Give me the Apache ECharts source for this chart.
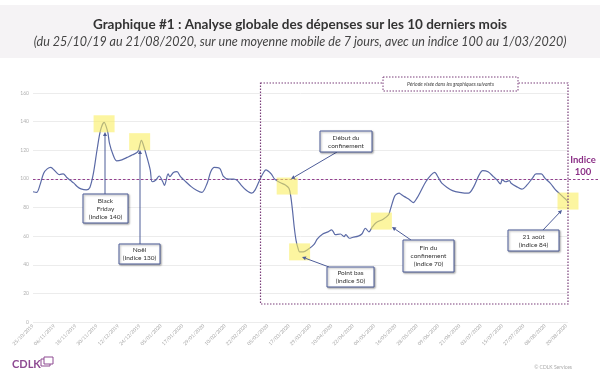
<!DOCTYPE html>
<html>
<head>
<meta charset="utf-8">
<script src="https://cdn.jsdelivr.net/npm/echarts@6/dist/echarts.min.js"></script>
<style>
  html, body { margin: 0; padding: 0; background: #fff; }
  #chart { width: 600px; height: 377px; }
</style>
</head>
<body>
<div id="chart"></div>
<script>
// 横轴刻度标签（每 12 天一个，从 25/10/2019 起）
const tickLabels = [
  '25/10/2019', '06/11/2019', '18/11/2019', '30/11/2019', '12/12/2019', '24/12/2019',
  '05/01/2020', '17/01/2020', '29/01/2020', '10/02/2020', '22/02/2020', '05/03/2020',
  '17/03/2020', '29/03/2020', '10/04/2020', '22/04/2020', '04/05/2020', '16/05/2020',
  '28/05/2020', '09/06/2020', '21/06/2020', '03/07/2020', '15/07/2020', '27/07/2020',
  '08/08/2020', '20/08/2020'
];

// 天数（距 25/10/2019）
const days = [
  0, 2, 4, 6, 8, 10, 12, 14, 15, 17, 19, 21, 23, 25, 27, 30, 32, 34, 36, 38,
  40, 42, 43, 45, 47, 50, 53, 56, 59, 61, 62, 64, 66, 67, 69, 71, 73, 74, 76, 77,
  79, 81, 83, 86, 89, 92, 95, 98, 100, 102, 105, 107, 110, 113, 115, 117, 120, 123, 125, 128,
  130, 131, 134, 136, 139, 142, 144, 145, 146, 147, 148, 149, 150, 152, 155, 158, 160, 163, 166, 168,
  169, 170, 173, 175, 176, 178, 180, 183, 185, 187, 189, 191, 193, 197, 200, 201, 203, 204, 206, 207,
  209, 212, 214, 216, 218, 221, 224, 226, 228, 230, 233, 236, 240, 245, 248, 251, 253, 256, 259, 261,
  263, 264, 266, 268, 269, 272, 275, 278, 281, 283, 286, 288, 291, 294, 296, 298, 300, 301
];

// 指数（7 日移动平均，1/03/2020 = 100）
const values = [
  91, 90.5, 96, 104, 107, 108, 106, 103.5, 103, 103.5, 101, 99, 97, 94.5, 93, 92.3, 94, 104, 120, 134,
  139.5, 133, 125, 117, 112.6, 113.3, 115, 116.8, 119, 127, 124, 115.6, 106, 98, 99, 102, 98, 95.5, 103.5, 101.5,
  104.5, 105, 101.6, 98, 94.6, 92, 90.5, 97, 105, 108, 107.5, 102, 99.8, 99.8, 98.8, 95.8, 92, 90, 92.3, 100.5,
  105, 106.3, 103.5, 99.8, 97.4, 95.8, 93.4, 88, 78, 66, 57, 52, 49, 49, 51, 54, 58, 61.5, 63, 64.3,
  63, 61, 61.5, 59.7, 61, 58.5, 59.2, 60, 61.5, 65.5, 63, 66.6, 69.4, 71.8, 74.8, 78.3, 86.5, 88.8, 90, 89.3,
  87.6, 85.3, 83.4, 86.5, 91, 98, 102.8, 104.5, 101, 97, 94, 91.8, 90.6, 90, 94.6, 102.8, 105.8, 105, 101.6, 99.3,
  96.5, 99.3, 98, 98.8, 97, 94.6, 92.8, 95.8, 100.5, 103.5, 103.5, 100.5, 97, 92.3, 90, 87.6, 85.3, 84
];

// 高亮点（黑色星期五、圣诞、封城开始、最低点、解封、8月21日）
const hlDays = [40, 60, 143, 150, 196, 301];
const hlValues = [138.5, 126, 95, 49, 70.5, 84.5];

const BLUE = '#4d5c98';
const PURPLE = '#8b2f86';
const FONT = 'Lato, "Open Sans", sans-serif';

const chart = echarts.init(document.getElementById('chart'));

const option = {
  animation: false,
  grid: { left: 33, right: 32, top: 93, bottom: 55 },
  xAxis: {
    type: 'value',
    min: 0,
    max: 301,
    interval: 12,
    axisLine: { show: false },
    axisTick: { show: false },
    splitLine: { show: false },
    axisLabel: {
      rotate: 45,
      fontSize: 5,
      color: '#a8a8a8',
      margin: 3,
      fontFamily: FONT,
      showMaxLabel: false,
      formatter: v => (v % 12 === 0 ? tickLabels[v / 12] : '')
    }
  },
  yAxis: {
    type: 'value',
    min: 0,
    max: 160,
    interval: 20,
    axisLine: { show: false },
    axisTick: { show: false },
    axisLabel: { fontSize: 5, color: '#b0b0b0', margin: 4, fontFamily: FONT },
    splitLine: { lineStyle: { color: '#ececec', width: 1 } }
  },
  series: [
    {
      type: 'line',
      data: days.map((d, i) => [d, values[i]]),
      smooth: 0.3,
      symbol: 'none',
      z: 3,
      lineStyle: { color: '#5b6aa6', width: 1.2 }
    },
    {
      // 黄色高亮方块
      type: 'scatter',
      data: hlDays.map((d, i) => [d, hlValues[i]]),
      symbol: 'rect',
      symbolSize: [21, 17],
      z: 4,
      itemStyle: { color: 'rgba(250, 238, 90, 0.72)' }
    }
  ]
};

chart.setOption(option);

// 箭头
function arrow(x1, y1, x2, y2) {
  const a = Math.atan2(y2 - y1, x2 - x1);
  const s = 4, w = 2;
  const bx = x2 - s * Math.cos(a), by = y2 - s * Math.sin(a);
  return [
    { type: 'line', shape: { x1, y1, x2: bx, y2: by }, style: { stroke: BLUE, lineWidth: 1 }, z: 10 },
    {
      type: 'polygon',
      shape: { points: [[x2, y2], [bx + w * Math.sin(a), by - w * Math.cos(a)], [bx - w * Math.sin(a), by + w * Math.cos(a)]] },
      style: { fill: BLUE },
      z: 10
    }
  ];
}

// 注释框
function box(x, y, w, h, text) {
  return [
    {
      type: 'rect',
      shape: { x, y, width: w, height: h },
      style: { fill: '#fff', stroke: BLUE, lineWidth: 1, shadowBlur: 2, shadowOffsetX: 1, shadowOffsetY: 1, shadowColor: 'rgba(0,0,0,0.35)' },
      z: 11
    },
    {
      type: 'text',
      x: x + w / 2,
      y: y + h / 2,
      style: { text, fontSize: 6.5, fontFamily: FONT, fill: '#333', align: 'center', verticalAlign: 'middle', lineHeight: 8 },
      z: 12
    }
  ];
}

const x0 = chart.convertToPixel({ gridIndex: 0 }, [0, 0])[0];
const left = chart.convertToPixel({ gridIndex: 0 }, [128, 0])[0];
const right = chart.convertToPixel({ gridIndex: 0 }, [301, 0])[0];
const y100 = Math.round(chart.convertToPixel({ gridIndex: 0 }, [0, 100])[1]) + 0.5;

const elements = [
  // 标题背景
  { type: 'rect', shape: { x: 0, y: 5, width: 600, height: 53 }, style: { fill: '#f5f3f5' }, z: 0 },
  {
    type: 'text', x: 300, y: 25,
    style: { text: 'Graphique #1 : Analyse globale des dépenses sur les 10 derniers mois', fontSize: 13.5, fontWeight: 'bold', fontFamily: FONT, fill: '#333', align: 'center', verticalAlign: 'middle' }
  },
  {
    type: 'text', x: 300, y: 42,
    style: { text: '(du 25/10/19 au 21/08/2020, sur une moyenne mobile de 7 jours, avec un indice 100 au 1/03/2020)', fontSize: 12.5, fontStyle: 'italic', fontFamily: FONT, fill: '#444', align: 'center', verticalAlign: 'middle' }
  },
  // 虚线框：后续图表关注的时期
  {
    type: 'rect', shape: { x: left, y: 83, width: right - left, height: 221 },
    style: { fill: 'none', stroke: '#7a3f7a', lineWidth: 1.2, lineDash: [1.5, 1.5] }, z: 5
  },
  { type: 'rect', shape: { x: 383, y: 77, width: 135, height: 14 }, style: { fill: '#fff', stroke: '#7a3f7a', lineWidth: 1, lineDash: [1.5, 1.5] }, z: 6 },
  {
    type: 'text', x: 450.5, y: 84,
    style: { text: 'Période visée dans les graphiques suivants', fontSize: 5, fontStyle: 'italic', fontFamily: FONT, fill: '#444', align: 'center', verticalAlign: 'middle' }, z: 7
  },
  // 指数 100 虚线及标注
  { type: 'line', shape: { x1: x0, y1: y100, x2: 598, y2: y100 }, style: { stroke: '#93408f', lineWidth: 1.2, lineDash: [2.5, 2] }, z: 2 },
  {
    type: 'text', x: 583, y: 166,
    style: { text: 'Indice\n100', fontSize: 9.5, fontWeight: 'bold', fontFamily: FONT, fill: PURPLE, align: 'center', verticalAlign: 'middle', lineHeight: 12 }
  },
  // 页脚
  { type: 'text', x: 12, y: 364, style: { text: 'CDLK', fontSize: 11, fontWeight: 'bold', fontFamily: FONT, fill: '#8e4a92', verticalAlign: 'middle' } },
  { type: 'rect', shape: { x: 41, y: 359, width: 9, height: 7 }, style: { fill: 'none', stroke: '#8e4a92', lineWidth: 1 } },
  { type: 'rect', shape: { x: 44, y: 357, width: 9, height: 7 }, style: { fill: '#fff', stroke: '#8e4a92', lineWidth: 1 } },
  { type: 'text', x: 572, y: 367, style: { text: '© CDLK Services', fontSize: 5, fontFamily: FONT, fill: '#aaa', align: 'right', verticalAlign: 'middle' } }
]
  .concat(box(83, 194, 45, 29, 'Black\nFriday\n(Indice 140)'), arrow(105, 194, 105, 132))
  .concat(box(119, 244, 41, 20, 'Noël\n(Indice 130)'), arrow(140, 244, 140, 150))
  .concat(box(320, 131, 52, 21, 'Début du\nconfinement'), arrow(337, 152, 291, 179))
  .concat(box(327, 267, 47, 20, 'Point bas\n(indice 50)'), arrow(329, 267, 302, 257))
  .concat(box(403, 240, 51, 32, 'Fin du\nconfinement\n(indice 70)'), arrow(411, 240, 392, 227))
  .concat(box(508, 230, 51, 21, '21 août\n(indice 84)'), arrow(543, 230, 562, 210));

chart.setOption({ graphic: elements });

window.addEventListener('resize', () => chart.resize());
</script>
</body>
</html>
